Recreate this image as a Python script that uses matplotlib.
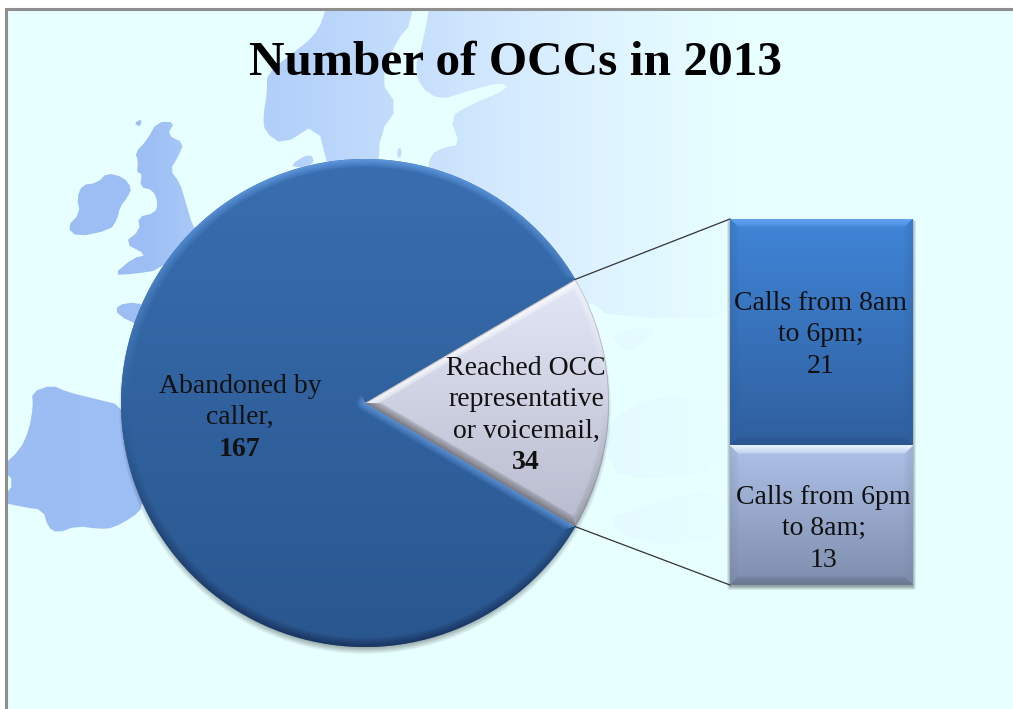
import numpy as np
import matplotlib
matplotlib.use('Agg')
import matplotlib.pyplot as plt
from matplotlib.colors import LinearSegmentedColormap, to_rgb
from matplotlib.path import Path
from matplotlib.patches import PathPatch

# Pie categories
pie_names = ['Reached OCC\nrepresentative\nor voicemail,', 'Abandoned by\ncaller,']
pie_values = [34, 167]

# Breakdown of the reached calls, stacked bottom to top
bar_names = ['Calls from 6pm\nto 8am;', 'Calls from 8am\nto 6pm;']
bar_values = [13, 21]

title = 'Number of OCCs in 2013'

W, H = 1013, 709
BG = '#E8FFFF'

# Outlines of the land behind the chart, in pixels
ireland = [(67, 227), (80, 213), (77, 198), (82, 185), (97, 183), (107, 173), (123, 177), (132, 188),
           (127, 198), (120, 207), (117, 220), (110, 230), (77, 237)]
britain = [(157, 122), (175, 122), (167, 135), (184, 143), (178, 157), (170, 170), (180, 183), (185, 200),
           (193, 227), (200, 235), (160, 270), (133, 274), (113, 275), (133, 258), (147, 255), (124, 243),
           (140, 230), (138, 217), (155, 213), (158, 203), (153, 190), (140, 187), (142, 173), (137, 173),
           (138, 160), (135, 153), (147, 140)]
hebrides = [(134, 123), (142, 119), (140, 127)]
brittany = [(117, 305), (137, 302), (150, 310), (145, 328), (117, 315)]
iberia = [(32, 392), (52, 385), (67, 392), (100, 400), (120, 405), (150, 450), (143, 507), (133, 517),
          (113, 528), (100, 529), (77, 526), (57, 533), (48, 527), (43, 510), (23, 507), (0, 502),
          (15, 482), (0, 468), (20, 450), (29, 430), (33, 407)]
scandinavia = [(333, -20), (412, -20), (412, 23), (397, 40), (380, 80), (398, 107), (380, 133), (378, 175),
               (330, 175), (317, 123), (283, 145), (265, 132), (263, 117), (267, 93), (267, 73),
               (293, 53), (313, 37), (323, 20)]
denmark = [(290, 165), (310, 153), (315, 163), (300, 168)]
gotland = [(397, 150), (401, 147), (402, 155), (398, 159)]
east_land = [(437, -40), (760, -40), (760, 318), (610, 318), (590, 300), (440, 300), (428, 175), (430, 155),
             (445, 147), (460, 145), (450, 117), (470, 105), (510, 88), (500, 82), (465, 92), (440, 100),
             (420, 87), (415, 63), (423, 45)]
land_parts = [ireland, britain, hebrides, brittany, iberia, scandinavia, denmark, gotland, east_land]

# Faint coasts south of the Black Sea
crimea = [(612, 335), (632, 328), (660, 330), (640, 345), (630, 352), (618, 345)]
turkey = [(605, 425), (635, 405), (665, 396), (705, 400), (725, 405), (725, 470), (640, 480), (610, 470)]
levant = [(605, 520), (640, 508), (690, 492), (725, 495), (725, 540), (640, 545)]
faint_parts = [crimea, turkey, levant]

# Land fades out towards the east
FADE = 740
land_cmap = LinearSegmentedColormap.from_list('land', [
    (0.0, '#9BBDF4'), (150 / FADE, '#9DBFF5'), (190 / FADE, '#A8C9F7'), (300 / FADE, '#B5D2FA'),
    (400 / FADE, '#C4DDFC'), (500 / FADE, '#D3E9FE'), (600 / FADE, '#DEF3FF'), (670 / FADE, '#E3F9FF'),
    (1.0, BG)])


def smooth(points, rounds=1):
    # Corner cutting to round off the coast lines
    pts = np.array(points, dtype=float)
    for _ in range(rounds):
        nxt = np.roll(pts, -1, axis=0)
        pts = np.column_stack([0.75 * pts + 0.25 * nxt, 0.25 * pts + 0.75 * nxt]).reshape(-1, 2)
    return pts


def land_patch(parts):
    path = Path.make_compound_path(*[Path(np.vstack([s, s[:1]]), closed=True) for s in map(smooth, parts)])
    patch = PathPatch(path, facecolor='none', edgecolor='none', transform=ax.transData)
    ax.add_patch(patch)
    return patch


def lerp_colors(t, c0, c1):
    t = np.clip(t, 0, 1)[..., None]
    return np.array(to_rgb(c0)) * (1 - t) + np.array(to_rgb(c1)) * t


def segment_dist(X, Y, p0, p1):
    dx, dy = p1[0] - p0[0], p1[1] - p0[1]
    u = np.clip(((X - p0[0]) * dx + (Y - p0[1]) * dy) / (dx * dx + dy * dy), 0, 1)
    return np.hypot(X - p0[0] - u * dx, Y - p0[1] - u * dy)


def bevel(base, edges, width, hi, lo, rim=0.0, power=1.0, side=0.0):
    # Each edge is (distance, normal x, normal y); the closest one sets the lighting
    dist = np.stack([e[0] for e in edges])
    nx = np.stack([np.broadcast_to(e[1], dist[0].shape) for e in edges])
    ny = np.stack([np.broadcast_to(e[2], dist[0].shape) for e in edges])
    idx = np.argmin(dist, axis=0)
    d = np.take_along_axis(dist, idx[None], 0)[0]
    n_x = np.take_along_axis(nx, idx[None], 0)[0]
    n_y = np.take_along_axis(ny, idx[None], 0)[0]
    light = np.clip(-n_y - side * np.abs(n_x), -1, 1)
    f = np.clip(1 - d / width, 0, 1) ** power
    m = light * f
    hi, lo = np.array(to_rgb(hi)), np.array(to_rgb(lo))
    out = base + (hi - base) * np.clip(m, 0, 1)[..., None]
    out = out + (lo - out) * np.clip(-m, 0, 1)[..., None]
    if rim:
        out = out + (lo - out) * (rim * np.clip(1 - d / 2.0, 0, 1))[..., None]
    return np.clip(out, 0, 1)


def wedge_image(wedge, c_top, c_bottom, y_top, y_bottom, width, hi, lo, rim=0.0, power=1.0, dark_sides=True):
    cx, cy = wedge.center
    R = wedge.r
    xs = np.arange(cx - R - 1, cx + R + 2)
    ys = np.arange(cy - R - 1, cy + R + 2)
    X, Y = np.meshgrid(xs, ys)
    r = np.hypot(X - cx, Y - cy) + 1e-6
    t1, t2 = np.radians(wedge.theta1), np.radians(wedge.theta2)
    p1 = (cx + R * np.cos(t1), cy + R * np.sin(t1))
    p2 = (cx + R * np.cos(t2), cy + R * np.sin(t2))
    n1 = (np.sin(t1), -np.cos(t1))
    n2 = (-np.sin(t2), np.cos(t2))
    if not dark_sides:
        n1 = n1 if n1[1] < 0 else (0.0, 0.0)
        n2 = n2 if n2[1] < 0 else (0.0, 0.0)
    edges = [(np.abs(R - r), (X - cx) / r, (Y - cy) / r),
             (segment_dist(X, Y, (cx, cy), p1), n1[0], n1[1]),
             (segment_dist(X, Y, (cx, cy), p2), n2[0], n2[1])]
    base = lerp_colors((Y - y_top) / (y_bottom - y_top), c_top, c_bottom)
    img = bevel(base, edges, width, hi, lo, rim, power)
    im = ax.imshow(img, extent=(xs[0] - .5, xs[-1] + .5, ys[-1] + .5, ys[0] - .5),
                   aspect='auto', zorder=4, interpolation='bilinear')
    im.set_clip_path(wedge)


fig = plt.figure(figsize=(W / 100, H / 100), dpi=100, facecolor='white')
ax = fig.add_axes([0, 0, 1, 1])

# Pie, with the small slice centred on the right
half = pie_values[0] / sum(pie_values) * 360 / 2
pie_center = (365, 403)
pie_radius = 244
wedges, _ = ax.pie(pie_values, startangle=-half, center=pie_center, radius=pie_radius,
                   colors=['#D0D3E6', '#33659F'], wedgeprops={'linewidth': 0, 'zorder': 3})
small, big = wedges

ax.set_axis_off()

# Page background and map
ax.imshow([[to_rgb(BG)]], extent=(7, W, H, 10), aspect='auto', zorder=0)
grad = np.linspace(7 / FADE, 1, FADE - 7)[None, :]
land_im = ax.imshow(grad, extent=(7, FADE, H, 10), cmap=land_cmap, vmin=0, vmax=1, aspect='auto', zorder=1)
land_im.set_clip_path(land_patch(land_parts))
faint_im = ax.imshow(grad, extent=(7, FADE, H, 10), cmap=land_cmap, vmin=0, vmax=1, aspect='auto', zorder=1, alpha=0.45)
faint_im.set_clip_path(land_patch(faint_parts))

# Frame shows on the top and left only
ax.plot([6, 6, W], [H, 9, 9], color='#8E8E8E', lw=2.2, solid_joinstyle='miter', zorder=2)

# Soft shadow under the pie
X, Y = np.meshgrid(np.arange(pie_center[0] - 260, pie_center[0] + 260),
                   np.arange(pie_center[1] - 260, pie_center[1] + 264))
r = np.hypot(X - pie_center[0], Y - pie_center[1] - 5)
shadow = np.zeros(X.shape + (4,))
shadow[..., 3] = 0.32 * np.clip((pie_radius + 3 - r) / 7, 0, 1)
ax.imshow(shadow, extent=(X[0, 0], X[0, -1], Y[-1, 0], Y[0, 0]), aspect='auto', zorder=2)

wedge_image(big, '#386EB0', '#2A568E', 159, 647, 9, '#6199E0', '#1A3560', power=0.85, dark_sides=False)
wedge_image(small, '#E4E7F7', '#B8BCCE', 278, 522, 8, '#FFFFFF', '#77777F', rim=0.7, power=0.55)

# Leader lines from the slice to the stacked bar
bar_left, bar_right, bar_top, bar_bottom = 730, 913, 219, 585
t = np.radians(half)
x_tip = pie_center[0] + pie_radius * np.cos(t)
dy_tip = pie_radius * np.sin(t)
ax.plot([x_tip, bar_left], [pie_center[1] - dy_tip, bar_top], color='#333333', lw=0.9, zorder=5)
ax.plot([x_tip, bar_left], [pie_center[1] + dy_tip, bar_bottom], color='#333333', lw=0.9, zorder=5)

# Shadow under the bar
X, Y = np.meshgrid(np.arange(bar_left - 8, bar_right + 10), np.arange(bar_top - 6, bar_bottom + 12))
dx = np.maximum(np.maximum(bar_left - X, X - bar_right), 0)
dy = np.maximum(np.maximum(bar_top + 3 - Y, Y - bar_bottom - 2), 0)
shadow = np.zeros(X.shape + (4,))
shadow[..., 3] = 0.35 * np.clip(1 - np.hypot(dx, dy) / 4, 0, 1)
ax.imshow(shadow, extent=(X[0, 0], X[0, -1], Y[-1, 0], Y[0, 0]), aspect='auto', zorder=2)

ax.set_xlim(0, W)
ax.set_ylim(H, 0)
ax.set_aspect('auto')

# Stacked bar in its own axes, scaled to the sum of the values
ax_bar = fig.add_axes([bar_left / W, 1 - bar_bottom / H, (bar_right - bar_left) / W, (bar_bottom - bar_top) / H])
ax_bar.set_axis_off()
bottoms = np.cumsum([0] + bar_values[:-1])
bars = ax_bar.bar([0, 0], bar_values, bottom=bottoms, width=1, color=['#94A6CC', '#3570B8'], linewidth=0, zorder=1)

bar_styles = [('#AEC1E8', '#7F8EAE', '#E6F3FF', '#6B7790'), ('#4085D8', '#2F5F9E', '#62A4F0', '#2A5590')]
for rect, (c_top, c_bot, hi, lo) in zip(bars, bar_styles):
    y0 = rect.get_y()
    y1 = y0 + rect.get_height()
    px_h = (bar_bottom - bar_top) * rect.get_height() / sum(bar_values)
    px_w = bar_right - bar_left
    X, Y = np.meshgrid(np.arange(px_w) + .5, np.arange(int(round(px_h))) + .5)
    edges = [(Y, 0.0, -1.0), (px_h - Y, 0.0, 1.0), (X, -1.0, 0.0), (px_w - X, 1.0, 0.0)]
    base = lerp_colors(Y / px_h, c_top, c_bot)
    img = bevel(base, edges, 9, hi, lo, power=0.5, side=0.2)
    ax_bar.imshow(img, extent=(-0.5, 0.5, y0, y1), aspect='auto', zorder=2)
ax_bar.set_xlim(-0.5, 0.5)
ax_bar.set_ylim(0, sum(bar_values))

# Text goes on a transparent overlay in pixel coordinates
ax_text = fig.add_axes([0, 0, 1, 1], zorder=5)
ax_text.set_axis_off()
ax_text.set_xlim(0, W)
ax_text.set_ylim(H, 0)

serif = 'Liberation Serif'
text_color = '#111111'
ax_text.text(515.5, 75, title, fontsize=35.5, fontweight='bold', family=serif, ha='center', va='baseline', color='black')


def stacked_label(x, y, name, value, bold):
    lines = name.split('\n')
    for i, line in enumerate(lines):
        ax_text.text(x, y + i * 31.4, line, fontsize=20, family=serif, ha='center', va='baseline', color=text_color)
    ax_text.text(x, y + len(lines) * 31.4, str(value), fontsize=20, family=serif, ha='center', va='baseline',
                 fontweight='bold' if bold else 'normal', color=text_color)


stacked_label(240, 393, pie_names[1], pie_values[1], True)
stacked_label(526, 375, pie_names[0], pie_values[0], True)
stacked_label(820.5, 310, bar_names[1], bar_values[1], False)
stacked_label(823.5, 504, bar_names[0], bar_values[0], False)

fig.savefig('out.png', dpi=100, facecolor='white')
